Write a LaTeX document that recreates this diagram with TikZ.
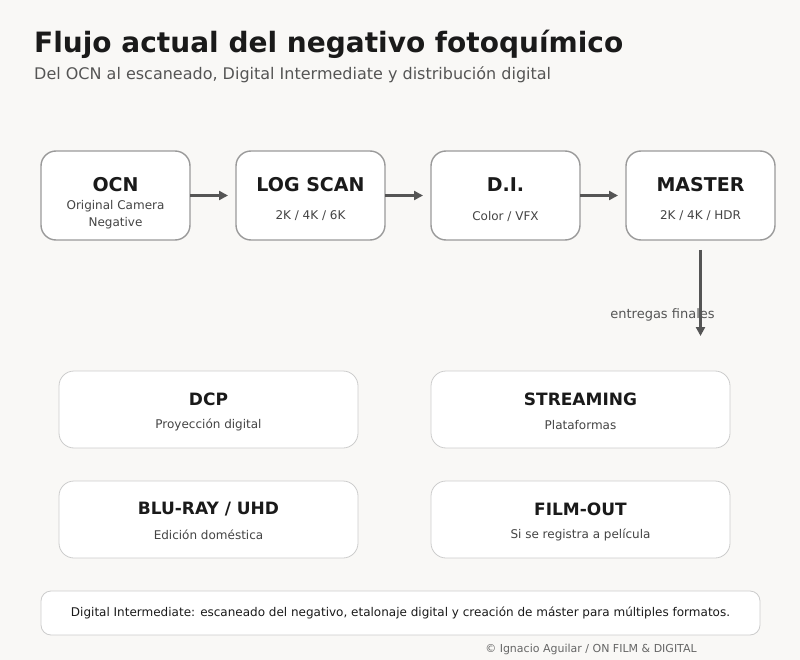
\documentclass[tikz,border=0pt]{standalone}
\usepackage{fontspec}
\setmainfont{DejaVu Sans}
\usepackage{tikz}
\usetikzlibrary{positioning,calc,arrows.meta}

\definecolor{bg}{HTML}{F9F8F6}
\definecolor{ink}{HTML}{1A1A1A}
\definecolor{soft}{HTML}{555555}
\definecolor{edge}{HTML}{9A9A9A}
\definecolor{light}{HTML}{CCCCCC}

\tikzset{
  stepbox/.style={rectangle,rounded corners=15pt,draw=edge,line width=1.4pt,fill=white,
    minimum width=149pt,minimum height=89pt,inner sep=0pt,outer sep=0pt},
  outbox/.style={rectangle,rounded corners=15pt,draw=light,line width=0.8pt,fill=white,
    minimum width=299pt,minimum height=77pt,inner sep=0pt,outer sep=0pt},
  ttl/.style={text=ink,font=\bfseries\fontsize{19}{22}\selectfont,inner sep=0pt},
  sub/.style={text=soft!80!black,font=\fontsize{12}{17}\selectfont,align=center,inner sep=0pt},
  flow/.style={draw=soft,line width=3pt,-{Triangle[length=9pt,width=9pt]}}
}

\begin{document}
\begin{tikzpicture}[x=1pt,y=-1pt]
\useasboundingbox[fill=bg] (0,0) rectangle (800,660);

% heading
\node[anchor=west,text=ink,font=\bfseries\fontsize{28}{32}\selectfont,inner sep=0pt] (head) at (34,44) {Flujo actual del negativo fotoquímico};
\node[anchor=west,text=soft,font=\fontsize{16}{19}\selectfont,inner sep=0pt] (subhead) at (34,75) {Del OCN al escaneado, Digital Intermediate y distribución digital};

% main chain
\node[stepbox] (n1) at (115.5,195.5) {};
\node[stepbox,right=46pt of n1] (n2) {};
\node[stepbox,right=46pt of n2] (n3) {};
\node[stepbox,right=46pt of n3] (n4) {};

\node[ttl] at ($(n1.north)+(0,34)$) {OCN};
\node[sub] at ($(n1.north)+(0,63.5)$) {Original Camera\\Negative};
\node[ttl] at ($(n2.north)+(0,34)$) {LOG SCAN};
\node[sub] at ($(n2.north)+(0,65)$) {2K / 4K / 6K};
\node[ttl] at ($(n3.north)+(0,34)$) {D.I.};
\node[sub] at ($(n3.north)+(0,65)$) {Color / VFX};
\node[ttl] at ($(n4.north)+(0,34)$) {MASTER};
\node[sub] at ($(n4.north)+(0,65)$) {2K / 4K / HDR};

\draw[flow,shorten >=8pt] (n1) -- (n2);
\draw[flow,shorten >=8pt] (n2) -- (n3);
\draw[flow,shorten >=8pt] (n3) -- (n4);

\coordinate (cd1) at ($(n4.south)+(0,96)$);
\draw[flow] ([yshift=-10pt]n4.south) -- (cd1);
\node[text=soft,font=\fontsize{13}{15}\selectfont,inner sep=0pt] (lbl) at ($(n4.south)+(-38,75)$) {entregas finales};

% deliverables
\node[outbox] (d1) at (208.5,409.5) {};
\node[outbox] (d2) at (580.5,409.5) {};
\node[outbox,below=33pt of d1] (d3) {};
\node[outbox,below=33pt of d2] (d4) {};

\node[ttl,font=\bfseries\fontsize{17}{20}\selectfont] at ($(d1.north)+(0,28)$) {DCP};
\node[sub] at ($(d1.north)+(0,54)$) {Proyección digital};
\node[ttl,font=\bfseries\fontsize{17}{20}\selectfont] at ($(d2.north)+(0,28)$) {STREAMING};
\node[sub] at ($(d2.north)+(0,54)$) {Plataformas};
\node[ttl,font=\bfseries\fontsize{17}{20}\selectfont] at ($(d3.north)+(0,28)$) {BLU-RAY / UHD};
\node[sub] at ($(d3.north)+(0,54)$) {Edición doméstica};
\node[ttl,font=\bfseries\fontsize{17}{20}\selectfont] at ($(d4.north)+(0,28)$) {FILM-OUT};
\node[sub] at ($(d4.north)+(0,54)$) {Si se registra a película};

% footer
\node[rectangle,rounded corners=10pt,draw=light,line width=0.8pt,fill=white,
  minimum width=719pt,minimum height=44pt,text=ink,font=\fontsize{12}{14}\selectfont] (note) at (400.5,613)
  {Digital Intermediate: escaneado del negativo, etalonaje digital y creación de máster para múltiples formatos.};
\node[text=soft!90,font=\fontsize{11}{13}\selectfont,inner sep=0pt] (credit) at (591,649) {© Ignacio Aguilar / ON FILM \& DIGITAL};
\end{tikzpicture}
\end{document}
